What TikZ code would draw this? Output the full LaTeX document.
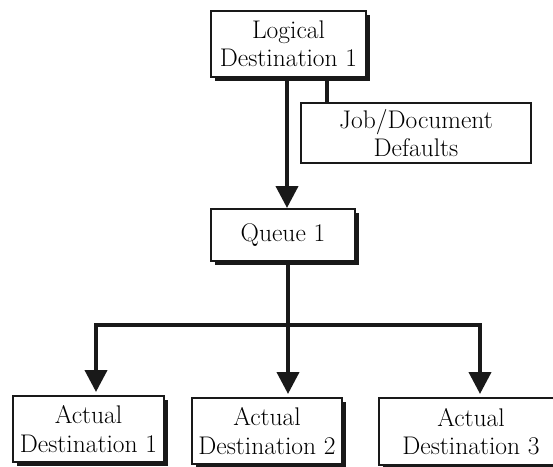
\documentclass[tikz,border=0pt]{standalone}
\usetikzlibrary{arrows.meta,shadows,calc}
\tikzset{
  box/.style={draw=black!90, line width=2pt, fill=white, align=center,
    inner sep=0pt, font=\fontsize{25.5}{28.5}\selectfont},
  sbox/.style={box, drop shadow={shadow xshift=4pt, shadow yshift=-4pt, fill=black!90, opacity=1}},
  conn/.style={draw=black!90, line width=4pt},
  arr/.style={conn, -{Triangle[width=22pt,length=22pt]}, shorten >=3pt},
}
\begin{document}
\begin{tikzpicture}[x=1pt,y=-1pt]
\clip (0,0) rectangle (553,466);
\useasboundingbox (0,0) rectangle (553,466);
\node[sbox, minimum width=155pt, minimum height=66pt] (L) at (288.5,44) {Logical\\Destination 1};
\node[box, minimum width=230pt, minimum height=60pt] (J) at (416,133) {Job/Document\\Defaults};
\node[sbox, minimum width=144pt, minimum height=52pt] (Q) at (283,235) {Queue 1};
\node[sbox, minimum width=151pt, minimum height=66pt] (A1) at (88.5,429) {Actual\\Destination 1};
\node[sbox, minimum width=150pt, minimum height=66pt] (A2) at (267,431) {Actual\\Destination 2};
\node[sbox, minimum width=184pt, minimum height=67pt] (A3) at (471,431.5) {Actual\\Destination 3};
\coordinate (hub) at (288,325);
\coordinate (hl) at (96,325);
\coordinate (hr) at (480,325);
\coordinate (jx) at (327,0);
\draw[arr, shorten >=0pt] ([xshift=-1.5pt]L.south) -- ([xshift=-1.5pt]L.south |- Q.north);
\draw[conn] (L.south -| jx) -- (J.north -| jx);
\draw[conn] (Q.south -| hub) -- (hub);
\draw[arr] (hub) -| (A1.north -| hl);
\draw[arr] (hub) -| (A3.north -| hr);
\draw[arr] (hub) -- (A2.north -| hub);
\end{tikzpicture}
\end{document}
